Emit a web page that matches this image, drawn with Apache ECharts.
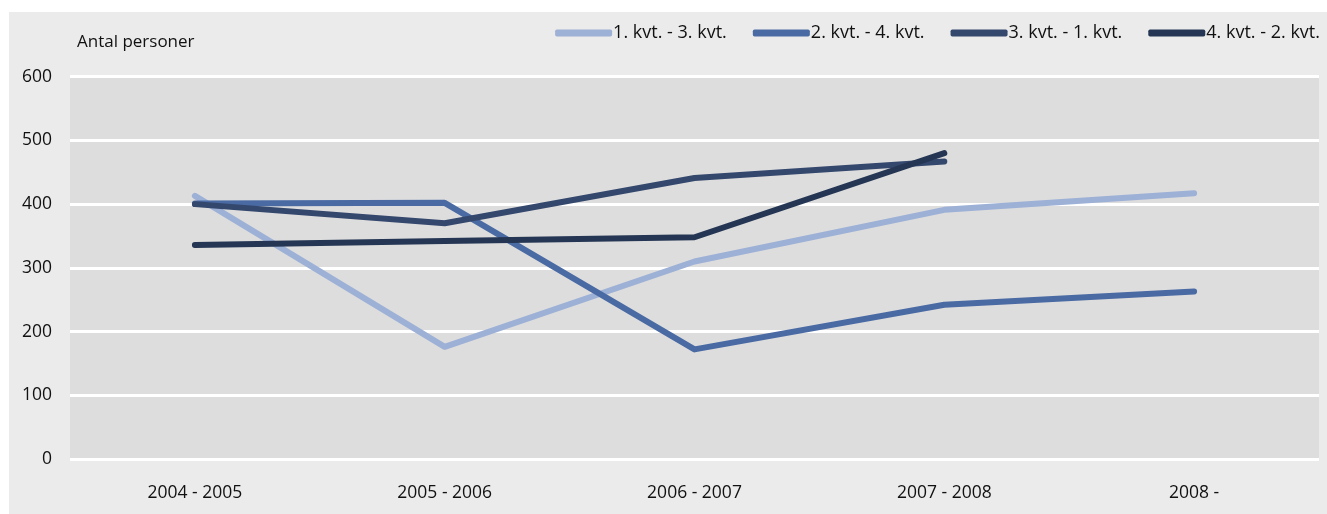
<!DOCTYPE html>
<html><head><meta charset="utf-8">
<script src="https://cdn.jsdelivr.net/npm/echarts@6/dist/echarts.min.js"></script>
<style>
html,body{margin:0;padding:0;background:#ffffff;}
#c{position:absolute;left:9px;top:12px;width:1318px;height:502px;background:#ebebeb;}
</style></head>
<body><div id="c"></div>
<script>
const categories = ['2004 - 2005','2005 - 2006','2006 - 2007','2007 - 2008','2008 -'];
const seriesNames = ['1. kvt. - 3. kvt.','2. kvt. - 4. kvt.','3. kvt. - 1. kvt.','4. kvt. - 2. kvt.'];
const s1 = [413, 176, 310, 391, 417];
const s2 = [401, 402, 172, 242, 263];
const s3 = [400, 370, 441, 467, null];
const s4 = [336, 342, 348, 480, null];
const yTicks = [0,100,200,300,400,500,600];
const colors = ['#9db0d6','#4a6aa4','#34476d','#253654'];
const yName = 'Antal personer';

const font = '"Open Sans", sans-serif';
const chart = echarts.init(document.getElementById('c'));
const data = [s1,s2,s3,s4];
chart.setOption({
  animation:false,
  backgroundColor:'#ebebeb',
  color: colors,
  textStyle:{fontFamily:font},
  legend:{
    right:2, top:7,
    itemWidth:57, itemHeight:7, itemGap:26,
    icon:'roundRect',
    textStyle:{fontSize:18, color:'#111', fontFamily:font, padding:[0,0,0,-4]},
    data: seriesNames
  },
  graphic:[{type:'text', left:68, top:22, style:{text:yName, fontSize:17, fill:'#111', fontFamily:font}}],
  grid:{left:61, right:8, top:64.7, bottom:55, containLabel:false,
        show:true, backgroundColor:'#dddddd', borderWidth:0},
  xAxis:{
    type:'category', data:categories, boundaryGap:true,
    axisLine:{show:false}, axisTick:{show:false},
    axisLabel:{fontSize:17.5, color:'#111', margin:25, fontFamily:font}
  },
  yAxis:{
    type:'value', min:0, max:600, interval:100,
    axisLine:{show:false}, axisTick:{show:false},
    axisLabel:{fontSize:17.5, color:'#111', margin:18, fontFamily:font,
      formatter:v=>yTicks.includes(v)?String(v):''},
    splitLine:{lineStyle:{color:'#ffffff', width:3}}
  },
  series: seriesNames.map((n,i)=>({
    name:n, type:'line', data:data[i], showSymbol:false, symbol:'none',
    lineStyle:{width:6, cap:'round', join:'round', color:colors[i]},
    itemStyle:{color:colors[i]}
  }))
});
</script></body></html>
